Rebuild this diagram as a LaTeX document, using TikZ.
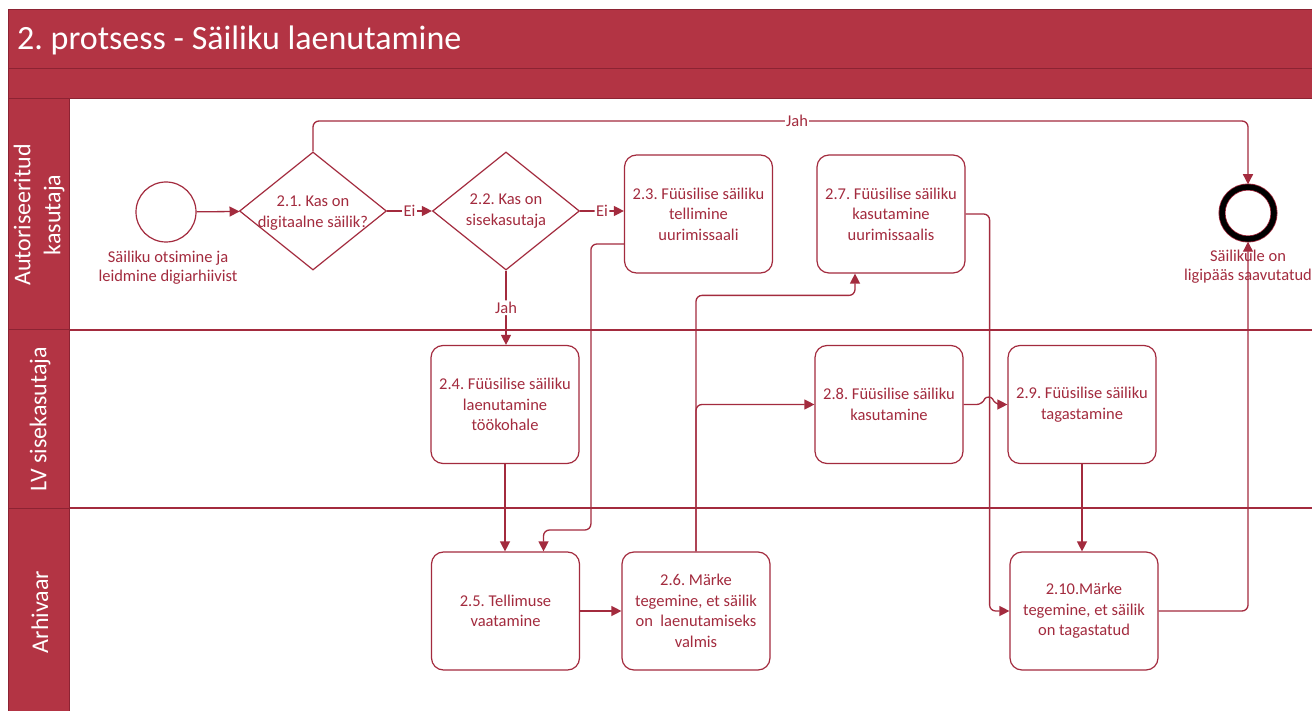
\documentclass[tikz,border=0pt]{standalone}
\usepackage{fontspec}
\setmainfont{Carlito}
\frenchspacing
\usetikzlibrary{shapes.geometric,arrows.meta,calc}
\definecolor{lanefill}{HTML}{B33444}
\definecolor{laneedge}{HTML}{8C2333}
\definecolor{ink}{HTML}{A32B3E}
\begin{document}
\begin{tikzpicture}[x=1pt,y=-1pt,
  bodyfont/.style={font=\fontsize{16.5}{20.5}\selectfont},
  task/.style={draw=ink, line width=1.2pt, rounded corners=12pt,
    minimum width=148pt, minimum height=118pt, inner sep=0pt,
    align=center, text=ink, bodyfont},
  gate/.style={diamond, draw=ink, line width=1.2pt, aspect=1.25,
    minimum width=147pt, minimum height=118pt, inner sep=0pt},
  gatetext/.style={align=center, text=ink, bodyfont, inner sep=0pt},
  startev/.style={circle, draw=ink, line width=1.2pt, minimum size=60pt, inner sep=0pt},
  endev/.style={circle, draw=black, line width=5.5pt, minimum size=52pt, inner sep=0pt,
    preaction={draw=ink, line width=7pt}},
  evlabel/.style={align=center, text=ink, inner sep=0pt,
    font=\fontsize{16.5}{19}\selectfont},
  lbl/.style={fill=white, text=ink, inner sep=1.5pt, bodyfont},
  flow/.style={draw=ink, line width=1.3pt, rounded corners=6pt,
    -{Triangle[length=10pt,width=10pt]}},
  laneline/.style={draw=ink, line width=1.2pt},
  headcell/.style={fill=lanefill, draw=laneedge, line width=1pt},
  lanetitle/.style={text=white, rotate=90, align=center,
    font=\fontsize{24}{30}\selectfont, inner sep=0pt}
]
\clip (0,0) rectangle (1312,711);
\fill[white] (0,0) rectangle (1312,711);

% pool header and title band
\filldraw[headcell] (8,10) rectangle (1330,69);
\filldraw[headcell] (8,69) rectangle (1330,99);
\node[text=white, anchor=west, inner sep=0pt,
  font=\fontsize{34}{38}\selectfont] (title) at (17,40) {2. protsess - Säiliku laenutamine};

% lane separators
\draw[laneline] (8,330) -- (1330,330);
\draw[laneline] (8,508) -- (1330,508);

% lane header cells
\filldraw[headcell] (8,99) rectangle (69,330);
\filldraw[headcell] (8,330) rectangle (69,508);
\filldraw[headcell] (8,508) rectangle (69,730);
\node[lanetitle] (lane1) at (39,215) {Autoriseeritud\\kasutaja};
\node[lanetitle] (lane2) at (40,419) {LV sisekasutaja};
\node[lanetitle] (lane3) at (40,612) {Arhivaar};

% events and gateways
\node[startev] (start) at (166,212) {};
\node[evlabel, anchor=north] (startlbl) at ($(start.south)+(2,8)$)
  {Säiliku otsimine ja\\leidmine digiarhiivist};

\node[gate] (d1) at (313,211) {};
\node[gatetext] (d1t) at (313,213) {2.1. Kas on\\digitaalne säilik?};
\node[gate] (d2) at (506,211) {};
\node[gatetext] (d2t) at (506,211) {2.2. Kas on\\sisekasutaja};

\node[endev] (endev) at (1248,213) {};
\node[evlabel, anchor=north] (endlbl) at ($(endev.south)+(0,8)$)
  {Säilikule on\\ligipääs saavutatud};

% tasks
\node[task] (t3) at (698.5,214) {2.3. Füüsilise säiliku\\tellimine\\uurimissaali};
\node[task] (t7) at (891,214) {2.7. Füüsilise säiliku\\kasutamine\\uurimissaalis};
\node[task] (t4) at (505,404.5) {2.4. Füüsilise säiliku\\laenutamine\\töökohale};
\node[task] (t8) at (889,404.5) {2.8. Füüsilise säiliku\\kasutamine};
\node[task] (t9) at (1082,404.5) {2.9. Füüsilise säiliku\\tagastamine};
\node[task] (t5) at (505.5,611) {2.5. Tellimuse\\vaatamine};
\node[task] (t6) at (696,611) {2.6. Märke\\tegemine, et säilik\\on\ \ laenutamiseks\\valmis};
\node[task] (t10) at (1084,611) {2.10.Märke\\tegemine, et säilik\\on tagastatud};

% sequence flows
\coordinate (jahmid) at (797,121);
\draw[flow] (start) -- (d1);
\draw[flow] (d1.east) -- node[lbl] (ei1) {Ei} (d2.west);
\draw[flow] (d2.east) -- node[lbl] (ei2) {Ei} (d2.east -| t3.west);
\draw[flow] (d1.north) |- (jahmid) -| (endev.north);
\node[lbl] (jah1) at (jahmid) {Jah};
\draw[flow] (d2.south) -- node[lbl] (jah2) {Jah} (d2.south |- t4.north);
\draw[flow] (t4.south) -- (t4.south |- t5.north);
\draw[flow] ($(t3.west)+(0,30)$) -- ++(-33,0) -- ++(0,286) -| ($(t5.north)+(38,0)$);
\draw[flow] (t5.east) -- (t6.west);
\draw[flow] (t6.north) |- (t8.west);
\draw[flow] (t6.north) -- ++(0,-256) -| ($(t7.south)+(-36,0)$);
\draw[flow] (t7.east) -- ++(24,0) |- (t10.west);
\coordinate (hopL) at ($(t8.east)+(19,0)$);
\coordinate (hopR) at ($(hopL)+(12,0)$);
\draw[flow] (t8.east) -- (hopL) .. controls ($(hopL)+(3,-8)$) and ($(hopR)+(-3,-8)$) .. (hopR) -- (t9.west);
\draw[flow] (t9.south) -- (t9.south |- t10.north);
\draw[flow] (t10.east) -| (endev.south);
\end{tikzpicture}
\end{document}
